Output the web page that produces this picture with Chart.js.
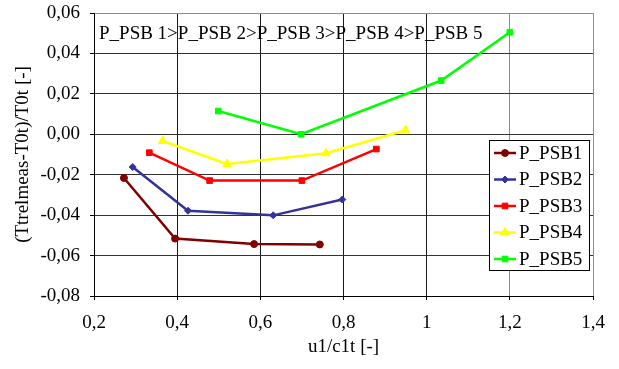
<!DOCTYPE html>
<html>
<head>
<meta charset="utf-8">
<script src="https://cdn.jsdelivr.net/npm/chart.js@4.4.1/dist/chart.umd.min.js"></script>
<style>
  html, body { margin: 0; padding: 0; background: #fff; }
  #wrap { width: 619px; height: 369px; }
</style>
</head>
<body>
<div id="wrap"><canvas id="chart" width="619" height="369"></canvas></div>
<script>
// values
const seriesNames = ['P_PSB1', 'P_PSB2', 'P_PSB3', 'P_PSB4', 'P_PSB5'];
const x1 = [0.272, 0.395, 0.585, 0.743];
const y1 = [-0.0216, -0.0516, -0.0543, -0.0545];
const x2 = [0.293, 0.426, 0.631, 0.797];
const y2 = [-0.0162, -0.0378, -0.0401, -0.0323];
const x3 = [0.333, 0.478, 0.700, 0.879];
const y3 = [-0.0091, -0.0229, -0.0229, -0.0073];
const x4 = [0.365, 0.520, 0.758, 0.949];
const y4 = [-0.0033, -0.0147, -0.0094, 0.0020];
const x5 = [0.499, 0.698, 1.035, 1.200];
const y5 = [0.0115, 0.0000, 0.0266, 0.0505];
const stageLabels = ['P_PSB 1', 'P_PSB 2', 'P_PSB 3', 'P_PSB 4', 'P_PSB 5'];

const FONT = 'Liberation Serif';

function toPoints(xs, ys) {
    let pts = [];
    for (let i = 0; i < xs.length; i++) {
        pts.push({x: xs[i], y: ys[i]});
    }
    return pts;
}

function comma(v, digits) {
    let s = digits ? v.toFixed(digits) : String(Math.round(v * 10) / 10);
    return s.replace('.', ',');
}

const styles = [
    {color: '#800000', pointStyle: 'circle', radius: 3.5},
    {color: '#333399', pointStyle: 'rectRot', radius: 3.5},
    {color: '#ff0000', pointStyle: 'rect', radius: 4},
    {color: '#ffff00', pointStyle: 'triangle', radius: 5},
    {color: '#00ff00', pointStyle: 'rect', radius: 4}
];
const allX = [x1, x2, x3, x4, x5];
const allY = [y1, y2, y3, y4, y5];

const datasets = seriesNames.map(function(name, i) {
    return {
        label: name,
        data: toPoints(allX[i], allY[i]),
        showLine: true,
        borderColor: styles[i].color,
        backgroundColor: styles[i].color,
        borderWidth: 2.5,
        pointStyle: styles[i].pointStyle,
        pointRadius: styles[i].radius,
        pointBorderWidth: 1,
        pointBorderColor: styles[i].color,
        pointBackgroundColor: styles[i].color
    };
});

// header text and box legend drawn on top
const overlay = {
    id: 'overlay',
    afterDraw: function(chart) {
        const ctx = chart.ctx;
        ctx.save();
        ctx.font = '19px "' + FONT + '"';
        ctx.fillStyle = '#000';
        ctx.textBaseline = 'alphabetic';
        ctx.textAlign = 'left';
        ctx.fillText(stageLabels.join('>'), 99, 38.5);

        // legend
        const bx = 489.5, by = 140.5, bw = 100, bh = 130;
        ctx.fillStyle = '#fff';
        ctx.fillRect(bx, by, bw, bh);
        ctx.strokeStyle = '#000';
        ctx.lineWidth = 1;
        ctx.strokeRect(bx, by, bw, bh);
        ctx.textBaseline = 'middle';
        for (let i = 0; i < seriesNames.length; i++) {
            const yy = 153 + i * 26.5;
            ctx.strokeStyle = styles[i].color;
            ctx.fillStyle = styles[i].color;
            ctx.lineWidth = 2.5;
            ctx.beginPath();
            ctx.moveTo(494, yy);
            ctx.lineTo(516, yy);
            ctx.stroke();
            ctx.lineWidth = 1;
            Chart.helpers.drawPoint(ctx, {pointStyle: styles[i].pointStyle, radius: styles[i].radius, rotation: 0, borderWidth: 1}, 505, yy);
            ctx.fillStyle = '#000';
            ctx.fillText(seriesNames[i], 519, yy + 1);
        }
        ctx.restore();
    }
};

const ctx = document.getElementById('chart').getContext('2d');
const chart = new Chart(ctx, {
    type: 'scatter',
    data: {datasets: datasets},
    plugins: [overlay],
    options: {
        responsive: false,
        animation: false,
        devicePixelRatio: 1,
        layout: {padding: {top: 13, right: 26, bottom: 0, left: 0}},
        plugins: {
            legend: {display: false},
            tooltip: {enabled: false}
        },
        scales: {
            x: {
                type: 'linear',
                min: 0.2,
                max: 1.4,
                afterFit: function(scale) {
                    scale.height = 73;
                    scale.paddingLeft = 0;
                    scale.paddingRight = 0;
                },
                ticks: {
                    stepSize: 0.2,
                    padding: 12,
                    color: '#000',
                    font: {family: FONT, size: 19},
                    callback: function(v) { return comma(v); }
                },
                grid: {
                    color: function(c) { return c.tick && c.tick.value > 1.1 ? '#8c8c8c' : '#1a1a1a'; },
                    tickColor: '#000',
                    tickLength: 4,
                    lineWidth: 1
                },
                border: {color: '#000', width: 1},
                title: {
                    display: true,
                    text: 'u1/c1t [-]',
                    color: '#000',
                    font: {family: FONT, size: 19},
                    padding: {top: 0, bottom: 11}
                }
            },
            y: {
                min: -0.08,
                max: 0.06,
                afterFit: function(scale) {
                    scale.width = 94;
                    scale.paddingTop = 0;
                    scale.paddingBottom = 0;
                },
                ticks: {
                    stepSize: 0.02,
                    padding: 10,
                    color: '#000',
                    font: {family: FONT, size: 19},
                    callback: function(v) { return comma(v, 2); }
                },
                grid: {
                    color: function(c) { return c.tick && c.tick.value > 0.05 ? '#8c8c8c' : '#333'; },
                    tickColor: '#000',
                    tickLength: 4,
                    lineWidth: 1
                },
                border: {color: '#000', width: 1},
                title: {
                    display: true,
                    text: '(Ttrelmeas-T0t)/T0t [-]',
                    color: '#000',
                    font: {family: FONT, size: 19},
                    padding: {top: 12, bottom: 0}
                }
            }
        }
    }
});
</script>
</body>
</html>
